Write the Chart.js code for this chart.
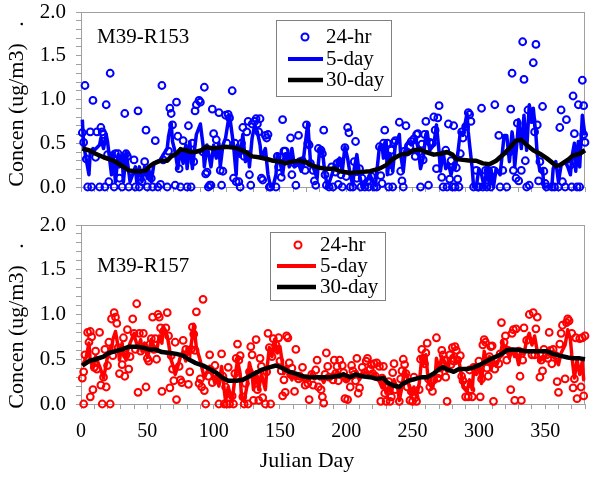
<!DOCTYPE html>
<html>
<head>
<meta charset="utf-8">
<script src="https://cdn.jsdelivr.net/npm/chart.js@4.4.1/dist/chart.umd.min.js"></script>
<style>
html,body{margin:0;padding:0;background:#fff;}
#wrap{position:relative;width:600px;height:478px;}
canvas{position:absolute;left:0;}
</style>
</head>
<body>
<div id="wrap">
<canvas id="panelTop" width="600" height="200" style="top:0px"></canvas>
<canvas id="panelBot" width="600" height="278" style="top:200px"></canvas>
</div>
<script>
// tick labels
const xTickLabels = [0,50,100,150,200,250,300,350]
const yTickLabels = [0,0.5,1,1.5,2]
const seriesNames = ["24-hr","5-day","30-day"]

// M39-R153  [julian day, concentration]
const r153Hr24 = [[1,0.62],[2,0.51],[3,1.16],[4,0.32],[5,0],[7,0.63],[8,0],[9,0.99],[11,0.34],[12,0.63],[14,0],[15,0.68],[16,0.63],[17,0.6],[18,0],[19,0.94],[20,0.37],[21,0.06],[22,1.3],[25,0],[26,0.38],[28,0.38],[29,0.1],[31,0],[33,0.84],[34,0.38],[35,0.35],[36,0],[40,0.31],[41,0],[43,0.87],[44,0],[46,0.06],[48,0.29],[49,0.65],[50,0],[53,0.1],[54,0],[56,0.53],[58,0],[60,0.03],[61,1.16],[62,0.31],[65,0],[66,0.41],[67,0.9],[68,0.84],[69,0.71],[71,0.02],[72,0.97],[73,0.58],[74,0.21],[75,0],[77,0.53],[79,0.38],[80,0],[81,0.7],[83,0],[84,0.5],[85,0.29],[86,0.87],[87,0.94],[89,0.99],[90,0.97],[92,0.4],[93,1.14],[94,0.15],[95,0.17],[96,0],[97,0.02],[98,0.02],[99,0.89],[100,0.61],[102,0.54],[103,0.38],[104,0.85],[105,0.19],[106,0.02],[107,0.18],[109,0.82],[110,0.5],[111,0.83],[112,0.79],[114,1.1],[115,0.1],[116,0.5],[117,0.06],[119,0.06],[120,0],[121,0.5],[122,0.68],[123,0.35],[125,0.63],[126,0.75],[127,0.14],[128,0.02],[129,0.72],[131,0.75],[132,0.78],[133,0.72],[134,0.63],[135,0.78],[136,0.1],[137,0.08],[139,0.59],[140,0.56],[141,0.6],[142,0],[143,0],[147,0],[148,0.35],[149,0.23],[150,0.34],[151,0.11],[152,0.77],[153,0.41],[154,0.41],[156,0.35],[157,0.3],[158,0.56],[159,0.14],[161,0.27],[162,0.02],[164,0.59],[165,0.29],[166,0.26],[167,0.3],[169,0.19],[170,0.71],[171,0.5],[172,0.48],[173,0.27],[175,0.19],[176,0.07],[177,0.02],[179,0.44],[181,0.42],[182,0.38],[183,0.65],[184,0.14],[185,0.02],[187,0],[189,0.23],[190,0],[192,0.17],[193,0.27],[194,0.03],[195,0.29],[196,0.14],[197,0],[199,0.45],[200,0.12],[201,0.68],[202,0.62],[203,0],[205,0],[206,0.29],[207,0.52],[208,0.1],[210,0.21],[211,0],[212,0.1],[214,0],[216,0.06],[217,0],[219,0.12],[221,0],[223,0],[225,0.46],[226,0.13],[227,0.04],[228,0.5],[229,0.65],[231,0.5],[232,0],[233,0.18],[234,0.42],[235,0],[236,0.51],[237,0.53],[240,0.74],[241,0.18],[242,0.07],[243,0],[244,0.41],[245,0.7],[246,0.4],[248,0.46],[249,0.52],[251,0.55],[252,0.35],[253,0.6],[254,0.61],[255,0.4],[256,0],[257,0.49],[258,0.31],[259,0.6],[260,0.75],[262,0.02],[263,0.51],[265,0.5],[266,0.8],[267,0.65],[268,0.21],[269,0.79],[270,0.93],[272,0.11],[273,0],[275,0.42],[276,0],[277,0.72],[278,0.09],[279,0.3],[280,0],[281,0.7],[282,0],[283,0.22],[284,0.09],[285,0],[286,0.38],[287,0.63],[288,0.56],[290,0.69],[292,0.85],[293,0.83],[294,0.75],[296,0],[298,0.19],[299,0],[300,0],[302,0.9],[303,0],[305,0.19],[306,0],[307,0.19],[309,0],[311,0.19],[312,0.94],[315,0.59],[316,0],[318,0.19],[321,0],[323,0.4],[324,0.89],[325,1.3],[326,0.19],[328,0.1],[329,0.73],[330,0.07],[332,0.19],[333,1.66],[334,1.23],[335,0.3],[336,0],[337,0.88],[338,0.02],[340,0.77],[341,1.42],[342,0.63],[343,1.63],[344,0.71],[345,0.07],[346,0.29],[348,0.92],[349,0.18],[350,0.04],[351,0],[355,0],[357,0],[360,0],[361,0.68],[362,0.88],[363,0.06],[365,0],[366,0.77],[369,0.25],[370,0],[371,1.04],[372,0.61],[374,0],[375,0.94],[376,0],[378,1.22],[379,0.93],[379,0.6],[380,0.51]]

const r153Day5 = [[1,0.77],[2,0.48],[4,0.31],[6,0.14],[7,0.4],[9,0.44],[10,0.42],[14,0.48],[15,0.56],[17,0.44],[19,0.6],[20,0.52],[23,0.14],[24,0.4],[26,0.06],[28,0.37],[29,0.23],[31,0.38],[32,0.06],[34,0.4],[35,0.29],[37,0.06],[41,0.23],[42,0.06],[44,0.23],[46,0.06],[48,0.23],[50,0.1],[51,0.21],[53,0.06],[55,0.27],[57,0.29],[60,0.31],[62,0.37],[65,0.44],[66,0.58],[68,0.73],[69,0.52],[71,0.4],[73,0.21],[75,0.44],[77,0.27],[79,0.48],[80,0.21],[82,0.52],[84,0.21],[86,0.48],[87,0.6],[90,0.72],[92,0.48],[93,0.23],[95,0.48],[96,0.4],[98,0.23],[100,0.48],[102,0.33],[104,0.5],[105,0.23],[107,0.48],[109,0.56],[111,0.75],[112,0.82],[115,0.48],[117,0.14],[118,0.48],[120,0.35],[122,0.6],[124,0.29],[126,0.4],[127,0.23],[129,0.56],[131,0.71],[133,0.63],[135,0.48],[136,0.33],[139,0.44],[141,0.14],[143,0],[145,0.02],[147,0.14],[148,0.38],[150,0.29],[152,0.14],[154,0.38],[156,0.37],[157,0.23],[159,0.44],[161,0.23],[164,0.27],[166,0.18],[167,0.23],[169,0.48],[171,0.73],[173,0.29],[175,0.23],[177,0.14],[178,0.1],[180,0.44],[182,0.42],[184,0.14],[186,0],[190,0.18],[191,0.25],[193,0.21],[195,0.33],[197,0.18],[199,0.46],[201,0.33],[203,0.14],[205,0.02],[206,0.21],[208,0.37],[210,0.14],[212,0],[215,0.06],[218,0.14],[220,0.06],[222,0.02],[225,0.46],[227,0.48],[228,0.33],[230,0.53],[231,0.14],[233,0.38],[235,0.18],[237,0.48],[240,0.6],[241,0.37],[243,0.18],[245,0.48],[247,0.52],[249,0.48],[251,0.52],[252,0.56],[254,0.46],[256,0.21],[258,0.33],[260,0.6],[261,0.63],[263,0.42],[266,0.48],[268,0.71],[270,0.4],[271,0.18],[273,0.4],[275,0.21],[277,0.27],[279,0.14],[281,0.27],[282,0.21],[284,0.37],[286,0.63],[288,0.59],[291,0.84],[292,0.63],[293,0.48],[295,0.21],[296,0],[298,0],[300,0.21],[302,0.14],[304,0],[306,0.21],[308,0.02],[309,0.21],[311,0],[313,0.21],[316,0.14],[318,0.44],[319,0.59],[321,0.59],[323,0.29],[325,0.63],[326,0.52],[327,0.23],[329,0.56],[330,0.77],[332,0.44],[334,0.82],[336,0.42],[338,0.94],[340,0.75],[341,0.9],[343,0.59],[344,0.37],[346,0.18],[348,0.21],[349,0],[352,0],[355,0],[356,0.21],[358,0.29],[360,0.06],[362,0.25],[365,0.29],[367,0.23],[369,0.14],[370,0.33],[372,0.5],[373,0.18],[375,0.52],[376,0.23],[378,0.82],[380,0.59]]

const r153Day30 = [[1,0.44],[6,0.42],[11,0.38],[17,0.34],[21,0.32],[26,0.29],[31,0.24],[36,0.19],[41,0.18],[45,0.18],[49,0.19],[51,0.23],[55,0.27],[60,0.3],[65,0.3],[68,0.35],[72,0.38],[75,0.43],[79,0.42],[83,0.4],[86,0.4],[91,0.42],[94,0.46],[99,0.44],[104,0.45],[109,0.46],[115,0.45],[120,0.43],[124,0.4],[129,0.35],[134,0.34],[140,0.32],[145,0.3],[150,0.29],[154,0.27],[159,0.29],[165,0.3],[170,0.28],[175,0.24],[180,0.22],[184,0.21],[191,0.21],[195,0.18],[203,0.16],[210,0.17],[218,0.18],[225,0.21],[230,0.25],[235,0.32],[241,0.37],[246,0.38],[251,0.42],[255,0.43],[260,0.4],[266,0.37],[271,0.38],[276,0.4],[280,0.37],[283,0.32],[288,0.31],[294,0.3],[298,0.3],[303,0.27],[308,0.26],[313,0.3],[319,0.38],[324,0.46],[328,0.53],[332,0.54],[336,0.48],[341,0.42],[346,0.38],[351,0.33],[356,0.27],[358,0.24],[361,0.25],[367,0.31],[371,0.36],[376,0.38],[380,0.42]]

// M39-R157  [julian day, concentration]
const r157Hr24 = [[1,0.29],[2,0],[2,0.36],[3,0.55],[5,0.8],[6,0.69],[7,0.81],[7,0.08],[8,0.75],[9,0.16],[10,0.41],[11,0.59],[12,0.39],[14,0.8],[15,0.21],[16,0],[17,0.3],[18,0.61],[19,0.19],[20,0.43],[21,0.69],[22,0],[23,0.95],[24,0.54],[25,1.02],[26,0.97],[27,0.9],[28,0.63],[29,0.34],[31,0.44],[32,0.74],[33,0.31],[34,0.55],[35,0.83],[36,0.39],[37,0.53],[39,0.95],[40,0.79],[41,0.61],[42,1.12],[43,0.13],[44,0.79],[45,0.59],[47,0.79],[48,0.63],[49,0.19],[50,0.51],[51,0.48],[52,0.67],[53,0.73],[54,0.97],[55,0.61],[56,0.73],[57,0.5],[58,1.0],[59,0.97],[60,0.85],[61,0.14],[62,0.81],[64,0.85],[65,1.02],[66,0.76],[67,0.18],[68,0.54],[69,0.39],[70,0.26],[71,0.69],[72,0.05],[74,0.42],[75,0.27],[76,0.24],[77,0.71],[79,0.61],[80,0.53],[81,0.22],[82,0.36],[83,0.61],[84,0.86],[85,0.78],[86,0.6],[87,1.03],[89,0.23],[90,0.28],[91,0.19],[92,1.17],[93,0.15],[94,0],[96,0.31],[97,0.55],[98,0.38],[99,0.24],[101,0.43],[103,0.29],[104,0],[106,0.56],[107,0.31],[108,0],[109,0.19],[110,0],[111,0.41],[112,0],[114,0.09],[115,0],[116,0.34],[117,0.51],[118,0.67],[119,0.49],[120,0.54],[122,0.08],[123,0],[124,0.23],[126,0],[127,0.36],[128,0.64],[129,0.55],[130,0.04],[131,0.3],[132,0.72],[133,0.16],[134,0.04],[135,0.51],[136,0.42],[137,0.07],[139,0],[140,0.36],[141,0.79],[142,0.63],[143,0],[144,0.53],[145,0.73],[147,0.66],[148,0.61],[149,0.74],[150,0.48],[151,0.37],[152,0.09],[153,0.27],[154,0.13],[155,0.76],[156,0.74],[157,0.46],[158,0.33],[159,0.4],[161,0.14],[162,0.61],[164,0.28],[165,0.31],[167,0.41],[169,0.21],[170,0.28],[171,0.23],[172,0.05],[174,0.33],[175,0.21],[177,0.38],[178,0.49],[179,0.19],[181,0.16],[182,0.08],[183,0.01],[184,0.33],[185,0.57],[186,0.42],[187,0.3],[190,0.27],[191,0.49],[192,0.34],[193,0.42],[194,0.26],[195,0.49],[197,0.43],[198,0.35],[199,0.06],[200,0.28],[201,0.05],[203,0.19],[204,0.43],[205,0.37],[206,0.33],[207,0.26],[208,0.51],[209,0.12],[210,0.18],[212,0.41],[214,0.35],[215,0.48],[216,0.51],[218,0.39],[219,0.44],[220,0.34],[221,0.45],[222,0.31],[223,0.46],[225,0.42],[226,0.03],[227,0.29],[228,0.42],[229,0.12],[230,0.03],[231,0.2],[232,0.25],[233,0.03],[234,0.08],[235,0.35],[236,0.45],[237,0.16],[240,0.03],[241,0.28],[242,0.37],[243,0.5],[244,0.44],[245,0.34],[246,0.19],[248,0.04],[249,0.14],[250,0.03],[251,0.3],[252,0.07],[253,0.03],[255,0.16],[256,0.5],[257,0.61],[258,0.51],[259,0.45],[260,0.57],[261,0.68],[262,0.28],[263,0.19],[265,0.14],[266,0.27],[268,0.74],[269,0.29],[270,0.34],[271,0.4],[272,0.6],[273,0.55],[274,0.49],[275,0.3],[276,0.03],[278,0.55],[279,0.44],[280,0.63],[281,0.48],[282,0.64],[283,0.6],[284,0.49],[286,0.54],[287,0.31],[288,0.26],[290,0.08],[291,0.22],[292,0.08],[293,0.38],[294,0.16],[295,0.08],[296,0.41],[298,0.41],[300,0.48],[301,0.08],[302,0.28],[303,0.66],[304,0.72],[305,0.69],[306,0.4],[307,0.31],[308,0.53],[309,0.64],[310,0.65],[311,0.03],[312,0.39],[315,0.45],[316,0.56],[317,0.91],[319,0.69],[320,0.76],[321,0.49],[322,0.6],[324,0.16],[325,0.79],[326,0.83],[327,0.04],[328,0.84],[330,0.59],[331,0.31],[332,0.04],[333,0.49],[334,0.85],[336,0.71],[338,1.0],[340,0.55],[341,1.02],[342,0.55],[343,0.84],[344,0.97],[346,0.3],[347,0.49],[348,0.37],[349,0.61],[351,0.55],[352,0.51],[353,0.8],[354,0.6],[355,0.45],[356,0.61],[358,0.54],[359,0.25],[360,0.13],[361,0.67],[362,0.79],[363,0.88],[365,0.28],[366,0.91],[367,0.95],[368,0.93],[370,0.79],[371,0.18],[372,0.28],[373,0.74],[374,0.06],[376,0.73],[377,0.19],[378,0.74],[379,0.09],[380,0.76]]

const r157Day5 = [[1,0.43],[2,0.46],[4,0.53],[6,0.68],[7,0.48],[9,0.41],[11,0.53],[14,0.42],[15,0.38],[17,0.29],[19,0.44],[20,0.53],[22,0.63],[23,0.59],[24,0.72],[26,0.81],[28,0.64],[29,0.49],[31,0.68],[32,0.57],[34,0.49],[35,0.59],[37,0.68],[40,0.79],[41,0.72],[43,0.63],[45,0.72],[46,0.59],[48,0.68],[50,0.53],[51,0.57],[53,0.72],[55,0.64],[57,0.59],[59,0.76],[61,0.68],[62,0.87],[65,0.76],[66,0.68],[68,0.49],[70,0.4],[71,0.33],[73,0.42],[75,0.53],[77,0.59],[79,0.48],[80,0.63],[82,0.55],[84,0.76],[85,0.89],[87,0.63],[90,0.48],[92,0.35],[93,0.29],[95,0.36],[97,0.42],[99,0.33],[101,0.23],[102,0.31],[104,0.2],[106,0.42],[108,0.16],[109,0.03],[111,0.19],[114,0.03],[116,0.29],[118,0.49],[120,0.34],[121,0.08],[123,0.03],[125,0.19],[127,0.46],[129,0.34],[130,0.16],[132,0.36],[134,0.16],[136,0.34],[139,0.16],[140,0.36],[142,0.63],[144,0.53],[146,0.72],[148,0.57],[150,0.64],[152,0.44],[153,0.34],[155,0.42],[157,0.33],[159,0.27],[160,0.33],[162,0.28],[165,0.31],[167,0.27],[169,0.28],[170,0.3],[172,0.27],[174,0.34],[176,0.28],[178,0.31],[180,0.28],[181,0.3],[183,0.24],[185,0.31],[187,0.29],[190,0.34],[191,0.3],[193,0.36],[195,0.3],[198,0.34],[200,0.25],[203,0.31],[205,0.29],[208,0.36],[210,0.27],[212,0.34],[216,0.36],[218,0.31],[221,0.34],[223,0.3],[225,0.25],[227,0.18],[228,0.26],[230,0.12],[232,0.19],[234,0.12],[236,0.27],[239,0.16],[240,0.04],[242,0.19],[244,0.4],[246,0.29],[248,0.16],[249,0.08],[251,0.19],[253,0.08],[255,0.23],[257,0.53],[258,0.44],[260,0.55],[262,0.23],[265,0.18],[267,0.29],[268,0.51],[270,0.38],[272,0.53],[274,0.48],[276,0.36],[278,0.48],[279,0.53],[281,0.55],[283,0.46],[285,0.48],[287,0.3],[288,0.19],[291,0.14],[293,0.27],[295,0.16],[296,0.38],[298,0.33],[300,0.44],[302,0.23],[304,0.59],[306,0.46],[308,0.53],[309,0.38],[311,0.49],[313,0.42],[316,0.53],[318,0.7],[319,0.59],[321,0.64],[323,0.51],[325,0.61],[327,0.53],[328,0.57],[330,0.44],[332,0.61],[334,0.55],[336,0.72],[338,0.79],[340,0.66],[342,0.76],[344,0.59],[346,0.48],[348,0.53],[349,0.49],[351,0.55],[353,0.61],[355,0.53],[356,0.59],[358,0.49],[360,0.44],[362,0.57],[365,0.66],[367,0.83],[369,0.72],[370,0.55],[372,0.29],[374,0.49],[376,0.33],[378,0.48],[379,0.27],[380,0.27]]

const r157Day30 = [[1,0.43],[6,0.48],[11,0.5],[17,0.53],[21,0.57],[26,0.59],[31,0.61],[36,0.64],[42,0.64],[47,0.63],[51,0.61],[56,0.61],[61,0.58],[67,0.57],[72,0.56],[77,0.54],[81,0.5],[86,0.46],[92,0.43],[97,0.39],[102,0.35],[106,0.3],[111,0.26],[117,0.26],[122,0.27],[127,0.31],[132,0.35],[136,0.38],[142,0.41],[147,0.43],[152,0.4],[157,0.36],[162,0.34],[167,0.31],[172,0.3],[177,0.3],[182,0.3],[187,0.3],[193,0.31],[198,0.33],[203,0.3],[207,0.33],[212,0.31],[218,0.3],[223,0.28],[228,0.29],[231,0.24],[235,0.21],[240,0.19],[242,0.22],[247,0.26],[252,0.28],[257,0.3],[261,0.3],[266,0.34],[270,0.39],[273,0.41],[277,0.38],[281,0.36],[285,0.39],[291,0.39],[296,0.41],[301,0.44],[306,0.48],[310,0.51],[316,0.55],[321,0.6],[326,0.61],[331,0.6],[336,0.59],[342,0.59],[347,0.59],[351,0.59],[356,0.56],[361,0.54],[367,0.52],[371,0.51],[376,0.51],[380,0.5]]

const FONT = "'Liberation Serif', 'Times New Roman', serif"
const GRAY = "#a0a0a0"

// frame, panel label, axis titles and legend box
const deco = {
id:"deco",
beforeDatasetsDraw(chart,args,o){
const a = chart.chartArea
const ctx = chart.ctx
ctx.save()
ctx.strokeStyle = GRAY
ctx.lineWidth = 1
ctx.strokeRect(Math.round(a.left)+0.5, Math.round(a.top)+0.5, Math.round(a.right-a.left)-1, Math.round(a.bottom-a.top))
ctx.restore()
},
afterDraw(chart,args,o){
const ctx = chart.ctx
ctx.save()
ctx.fillStyle = "#000"
ctx.textBaseline = "middle"
ctx.textAlign = "left"
ctx.font = o.labelSize+"px "+FONT
ctx.fillText(o.label, o.labelX, o.labelY)

// y title
ctx.save()
ctx.translate(17, o.yTitleY)
ctx.rotate(-Math.PI/2)
ctx.textAlign = "center"
ctx.font = "22px "+FONT
ctx.fillText("Concen (ug/m3)   .", 0, 0)
ctx.restore()

// x title
if(o.xTitle){
ctx.textAlign = "center"
ctx.font = "22px "+FONT
ctx.fillText(o.xTitle[0], o.xTitle[1], o.xTitle[2])
ctx.textAlign = "left"
}

const b = o.box
ctx.fillStyle = "#fff"
ctx.fillRect(b[0],b[1],b[2],b[3])
ctx.strokeStyle = "#808080"
ctx.lineWidth = 1
ctx.strokeRect(b[0]+0.5,b[1]+0.5,b[2],b[3])

// 24-hr marker
ctx.beginPath()
ctx.arc(o.markerX, o.rows[0], 3.5, 0, Math.PI*2)
ctx.strokeStyle = o.color
ctx.lineWidth = 2
ctx.stroke()

// line samples
const cols = [o.color,"#000"]
const widths = [4,4.5]
for(let i=0;i<2;i++){
ctx.beginPath()
ctx.moveTo(o.lineX[0], o.rows[i+1])
ctx.lineTo(o.lineX[1], o.rows[i+1])
ctx.strokeStyle = cols[i]
ctx.lineWidth = widths[i]
ctx.stroke()
}

ctx.fillStyle = "#000"
ctx.font = o.legendSize+"px "+FONT
seriesNames.forEach((n,i)=>{
ctx.fillText(n, o.textX, o.rows[i])
})
ctx.restore()
}
}

function crearPanel(id, hr24, day5, day30, color, cfg){

return new Chart(document.getElementById(id),{
type:"scatter",
data:{
datasets:[
{
label:seriesNames[0],
data:hr24,
showLine:false,
pointRadius:3.4,
pointHoverRadius:3.4,
pointBorderWidth:2,
pointBorderColor:color,
pointBackgroundColor:"rgba(255,255,255,0)",
order:3,
clip:false
},
{
label:seriesNames[1],
data:day5,
showLine:true,
borderColor:color,
borderWidth:3.5,
borderJoinStyle:"round",
pointRadius:0,
order:2,
clip:false
},
{
label:seriesNames[2],
data:day30,
showLine:true,
borderColor:"#000",
borderWidth:4.5,
borderJoinStyle:"round",
pointRadius:0,
order:1,
clip:false
}
]
},
options:{
responsive:false,
animation:false,
events:[],
layout:{autoPadding:false, padding:{top:cfg.top,right:15,left:0,bottom:0}},
plugins:{
legend:{display:false},
tooltip:{enabled:false},
deco:cfg.deco
},
scales:{
x:{
type:"linear",
min:0,
max:380,
afterFit:s=>{ s.height = cfg.xHeight; s.paddingLeft = 0; s.paddingRight = 0 },
grid:{display:true,drawOnChartArea:false,drawTicks:true,tickLength:5,color:GRAY},
border:{display:true,color:GRAY},
ticks:{
stepSize:10,
autoSkip:false,
maxRotation:0,
padding:11,
color:"#000",
font:{family:FONT,size:20},
callback:v=> cfg.xLabels && xTickLabels.includes(v) ? String(v) : ""
}
},
y:{
min:0,
max:2,
// keep the plot box where the picture has it: no room for half labels
afterFit:s=>{ s.width = 81; s.paddingTop = 0; s.paddingBottom = 0 },
grid:{display:true,drawOnChartArea:false,drawTicks:true,tickLength:5,color:GRAY},
border:{display:true,color:GRAY},
ticks:{
stepSize:0.1,
autoSkip:false,
padding:10,
color:"#000",
font:{family:FONT,size:21},
callback:v=>{
const hit = yTickLabels.find(t=>Math.abs(t-v)<1e-6)
return hit===undefined ? "" : hit.toFixed(1)
}
}
}
}
},
plugins:[deco]
})

}

crearPanel("panelTop", r153Hr24, r153Day5, r153Day30, "#0000ff", {
top:12,
xHeight:13,
xLabels:false,
deco:{
label:"M39-R153", labelX:97, labelY:37, labelSize:21,
yTitleY:104,
color:"#0000ff",
box:[276,20,115,76],
rows:[37,59,80],
markerX:305, lineX:[288,323], textX:326, legendSize:21
}
})

crearPanel("panelBot", r157Hr24, r157Day5, r157Day30, "#ff0000", {
top:25,
xHeight:74,
xLabels:true,
deco:{
label:"M39-R157", labelX:97, labelY:66, labelSize:21,
yTitleY:126,
xTitle:["Julian Day",307,261],
color:"#ff0000",
box:[270,32,115,68],
rows:[45,66,87],
markerX:298, lineX:[277,316], textX:320, legendSize:21
}
})
</script>
</body>
</html>
